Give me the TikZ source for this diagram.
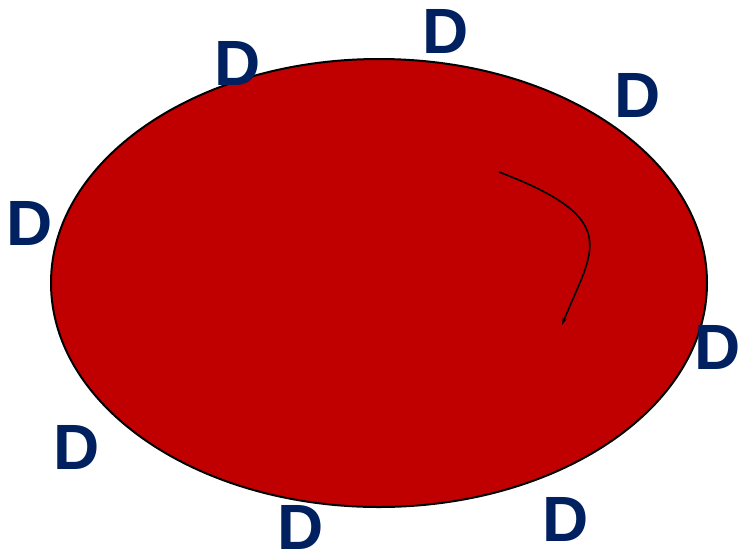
\documentclass[tikz,border=0pt]{standalone}
\usepackage{fontspec}
\setmainfont{Liberation Sans}
\usetikzlibrary{shapes.geometric,arrows.meta}
\definecolor{dblue}{HTML}{002060}
\definecolor{cellred}{HTML}{C00000}
\tikzset{
  dlabel/.style={text=dblue,font=\fontsize{64}{64}\selectfont\bfseries,inner sep=0pt},
  cell/.style={ellipse,draw=black,line width=2pt,fill=cellred,minimum width=656pt,minimum height=448pt,inner sep=0pt},
  path/.style={black,line width=1.6pt,-{Stealth[length=7pt,width=4pt]}}
}
\begin{document}
\begin{tikzpicture}[x=1pt,y=-1pt]
\useasboundingbox (0,0) rectangle (739,550);
\node[cell] (c) at (379,283) {};
\node[dlabel] (d1) at (238,63) {D};
\node[dlabel] (d2) at (446,31) {D};
\node[dlabel] (d3) at (638,95) {D};
\node[dlabel] (d4) at (30,223) {D};
\node[dlabel] (d5) at (718,347) {D};
\node[dlabel] (d6) at (77,447) {D};
\node[dlabel] (d7) at (566,519) {D};
\node[dlabel] (d8) at (301,527) {D};
\coordinate (s) at (499,172);
\coordinate (e) at (562,325);
\draw[path] (s) .. controls (625,220) and (592,250) .. (e);
\end{tikzpicture}
\end{document}
